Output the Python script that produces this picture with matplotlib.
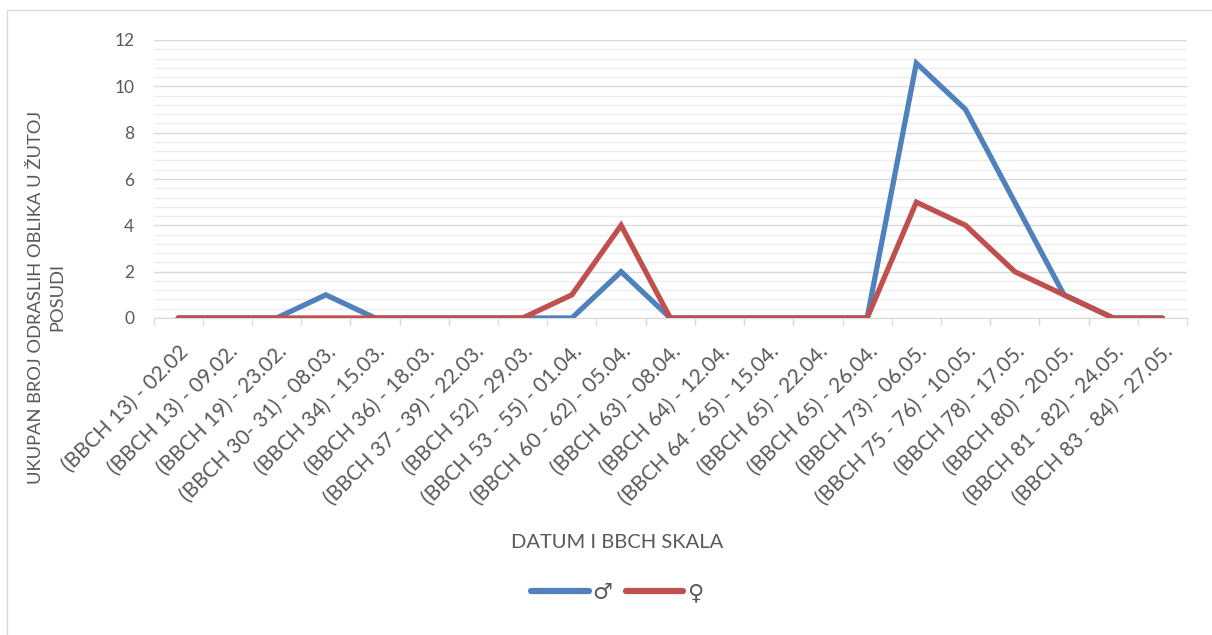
import matplotlib
matplotlib.use("Agg")
import matplotlib.pyplot as plt
from matplotlib.ticker import MultipleLocator
from matplotlib.patches import Rectangle

categories = [
    "(BBCH 13) - 02.02", "(BBCH 13) - 09.02.", "(BBCH 19) - 23.02.",
    "(BBCH 30- 31) - 08.03.", "(BBCH 34) - 15.03.", "(BBCH 36) - 18.03.",
    "(BBCH 37 - 39) - 22.03.", "(BBCH 52) - 29.03.", "(BBCH 53 - 55) - 01.04.",
    "(BBCH 60 - 62) - 05.04.", "(BBCH 63) - 08.04.", "(BBCH 64) - 12.04.",
    "(BBCH 64 - 65) - 15.04.", "(BBCH 65) - 22.04.", "(BBCH 65) - 26.04.",
    "(BBCH 73) - 06.05.", "(BBCH 75 - 76) - 10.05.", "(BBCH 78) - 17.05.",
    "(BBCH 80) - 20.05.", "(BBCH 81 - 82) - 24.05.", "(BBCH 83 - 84) - 27.05.",
]
male = [0, 0, 0, 1, 0, 0, 0, 0, 0, 2, 0, 0, 0, 0, 0, 11, 9, 5, 1, 0, 0]
female = [0, 0, 0, 0, 0, 0, 0, 0, 1, 4, 0, 0, 0, 0, 0, 5, 4, 2, 1, 0, 0]
series_names = ["\u2642", "\u2640"]

plt.rcParams['font.family'] = ['Lato', 'DejaVu Sans']
TXT = '#595959'
W, H = 1212, 635
fig = plt.figure(figsize=(W / 100, H / 100), dpi=100)

# outer chart border
fig.add_artist(Rectangle((7 / W, -0.1), 1.5, (H - 10) / H + 0.1, transform=fig.transFigure,
                         fill=False, edgecolor='#D9D9D9', linewidth=1))

ax = fig.add_axes([153.6 / W, (H - 318) / H, (1187 - 153.6) / W, (318 - 40) / H])
x = list(range(len(categories)))
ax.plot(x, male, color='#4F81BD', linewidth=3.8, solid_capstyle='round',
        solid_joinstyle='miter', label=series_names[0], zorder=3)
ax.plot(x, female, color='#C0504D', linewidth=3.8, solid_capstyle='round',
        solid_joinstyle='miter', label=series_names[1], zorder=4)

ax.set_xlim(-0.5, len(categories) - 0.5)
ax.set_ylim(0, 12)
ax.yaxis.set_major_locator(MultipleLocator(2))
ax.yaxis.set_minor_locator(MultipleLocator(0.4))
ax.grid(axis='y', which='major', color='#D9D9D9', linewidth=1.0, zorder=0)
ax.grid(axis='y', which='minor', color='#EDEDED', linewidth=1.0, zorder=0)
ax.tick_params(axis='y', which='both', length=0, labelsize=12.5, labelcolor=TXT, pad=14)

ax.set_xticks(x)
ax.set_xticklabels(categories, rotation=45, ha='right', va='top', rotation_mode='anchor',
                   fontsize=15, color=TXT)
ax.set_xticks([i - 0.5 for i in range(len(categories) + 1)], minor=True)
ax.tick_params(axis='x', which='major', length=0, pad=17)
ax.tick_params(axis='x', which='minor', length=5, color='#D9D9D9', width=1)

for s in ['left', 'right', 'top']:
    ax.spines[s].set_visible(False)
ax.spines['bottom'].set_color('#D9D9D9')
ax.set_axisbelow(True)

fig.text(617 / W, 1 - 543 / H, "DATUM I BBCH SKALA", ha='center', va='center',
         fontsize=14.5, color=TXT)
fig.text(47 / W, 1 - 297 / H, "UKUPAN BROJ ODRASLIH OBLIKA U ŽUTOJ\nPOSUDI",
         rotation=90, ha='center', va='center', multialignment='center',
         fontsize=13.2, color=TXT, linespacing=1.4)

leg = fig.legend(loc='center', bbox_to_anchor=(617 / W, 1 - 593 / H), ncol=2,
                 frameon=False, fontsize=16, handlelength=2.6, handletextpad=0.15,
                 columnspacing=0.6)
for t in leg.get_texts():
    t.set_color(TXT)
for l in leg.get_lines():
    l.set_linewidth(4.5)
    l.set_solid_capstyle('round')

fig.savefig("out.png", dpi=100, facecolor='white')
